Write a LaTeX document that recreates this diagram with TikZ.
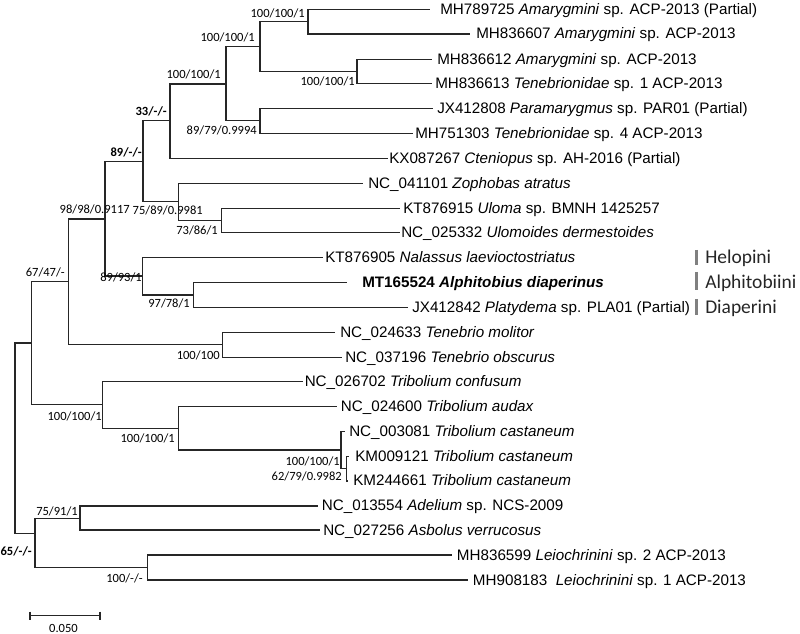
\documentclass[tikz,border=0pt]{standalone}
\usepackage{fontspec}
\setmainfont{Liberation Sans}
\newfontfamily\supfont{Carlito}
\begin{document}
\begin{tikzpicture}[x=0.75pt,y=-0.75pt,
  br/.style={line width=0.9pt, draw=black!85},
  leaf/.style={anchor=base west, inner sep=0pt, font=\fontsize{11.4}{13}\selectfont},
  sup/.style={anchor=base east, inner sep=0pt, font=\supfont\fontsize{9.4}{11}\selectfont},
  supb/.style={anchor=base east, inner sep=0pt, font=\supfont\bfseries\fontsize{9.4}{11}\selectfont},
  grp/.style={anchor=base west, inner sep=0pt, font=\supfont\fontsize{14.6}{17}\selectfont, text=black!85},
  gbar/.style={line width=2.2pt, draw=black!50}]
\useasboundingbox (0,0) rectangle (800,634);
% internal nodes
\coordinate (R) at (15,437.8);
\coordinate (P) at (31.7,343);
\coordinate (K) at (68.3,281.7);
\coordinate (H) at (105,219);
\coordinate (G) at (143,161.7);
\coordinate (F) at (170,120.7);
\coordinate (D) at (226,84);
\coordinate (B) at (260,46.7);
\coordinate (A) at (308,21.7);
\coordinate (C) at (357,71.3);
\coordinate (E) at (260,120.8);
\coordinate (I) at (178.3,201.7);
\coordinate (J) at (221.7,220.5);
\coordinate (L) at (142.5,276);
\coordinate (M) at (193.3,295);
\coordinate (N) at (222.3,344.8);
\coordinate (Q) at (102.7,404.3);
\coordinate (S) at (178.3,428.3);
\coordinate (T) at (341,450);
\coordinate (U) at (346.5,468.8);
\coordinate (X) at (35,533.3);
\coordinate (V) at (80,518.2);
\coordinate (W) at (147.7,567.5);
% leaf tips
\coordinate (t1) at (430,9.3);
\coordinate (t2) at (470,34);
\coordinate (t3) at (432,59.3);
\coordinate (t4) at (432,83.3);
\coordinate (t5) at (433,108.3);
\coordinate (t6) at (413,133.3);
\coordinate (t7) at (388,158.3);
\coordinate (t8) at (363,183.3);
\coordinate (t9) at (400,208.3);
\coordinate (t10) at (400,232.7);
\coordinate (t11) at (323,257.3);
\coordinate (t12) at (347,282.7);
\coordinate (t13) at (408,307.3);
\coordinate (t14) at (335,332.3);
\coordinate (t15) at (342,357.3);
\coordinate (t16) at (303,381.7);
\coordinate (t17) at (337,406.7);
\coordinate (t18) at (345,431.7);
\coordinate (t19) at (349,456.7);
\coordinate (t20) at (348,481);
\coordinate (t21) at (318,506);
\coordinate (t22) at (320,530);
\coordinate (t23) at (451.7,555);
\coordinate (t24) at (468,580);
% branches
\draw[br] (R) |- (P) (R) |- (X);
\draw[br] (P) |- (K) (P) |- (Q);
\draw[br] (K) |- (H) (K) |- (N);
\draw[br] (H) |- (G) (H) |- (L);
\draw[br] (G) |- (F) (G) |- (I);
\draw[br] (F) |- (D) (F) |- (t7);
\draw[br] (D) |- (B) (D) |- (E);
\draw[br] (B) |- (A) (B) |- (C);
\draw[br] (A) |- (t1) (A) |- (t2);
\draw[br] (C) |- (t3) (C) |- (t4);
\draw[br] (E) |- (t5) (E) |- (t6);
\draw[br] (I) |- (t8) (I) |- (J);
\draw[br] (J) |- (t9) (J) |- (t10);
\draw[br] (L) |- (t11) (L) |- (M);
\draw[br] (M) |- (t12) (M) |- (t13);
\draw[br] (N) |- (t14) (N) |- (t15);
\draw[br] (Q) |- (t16) (Q) |- (S);
\draw[br] (S) |- (t17) (S) |- (T);
\draw[br] (T) |- (t18) (T) |- (U);
\draw[br] (U) |- (t19) (U) |- (t20);
\draw[br] (X) |- (V) (X) |- (W);
\draw[br] (V) |- (t21) (V) |- (t22);
\draw[br] (W) |- (t23) (W) |- (t24);
% leaf labels
\node[leaf] (l1) at (440,14.3) {MH789725 \textit{Amarygmini} sp. ACP-2013 (Partial)};
\node[leaf] (l2) at (476,39) {MH836607 \textit{Amarygmini} sp. ACP-2013};
\node[leaf] (l3) at (437,64.3) {MH836612 \textit{Amarygmini} sp. ACP-2013};
\node[leaf] (l4) at (435,88.3) {MH836613 \textit{Tenebrionidae} sp. 1 ACP-2013};
\node[leaf] (l5) at (437,113.3) {JX412808 \textit{Paramarygmus} sp. PAR01 (Partial)};
\node[leaf] (l6) at (415,138.3) {MH751303 \textit{Tenebrionidae} sp. 4 ACP-2013};
\node[leaf] (l7) at (389,163.3) {KX087267 \textit{Cteniopus} sp. AH-2016 (Partial)};
\node[leaf] (l8) at (368,188.3) {NC\_041101 \textit{Zophobas atratus}};
\node[leaf] (l9) at (403,213.3) {KT876915 \textit{Uloma} sp. BMNH 1425257};
\node[leaf] (l10) at (401,237.7) {NC\_025332 \textit{Ulomoides dermestoides}};
\node[leaf] (l11) at (325,262.3) {KT876905 \textit{Nalassus laevioctostriatus}};
\node[leaf] (l12) at (362,287.7) {\bfseries MT165524 \textit{Alphitobius diaperinus}};
\node[leaf] (l13) at (412,312.3) {JX412842 \textit{Platydema} sp. PLA01 (Partial)};
\node[leaf] (l14) at (340,337.3) {NC\_024633 \textit{Tenebrio molitor}};
\node[leaf] (l15) at (345,362.3) {NC\_037196 \textit{Tenebrio obscurus}};
\node[leaf] (l16) at (304.5,386.7) {NC\_026702 \textit{Tribolium confusum}};
\node[leaf] (l17) at (340.7,411.7) {NC\_024600 \textit{Tribolium audax}};
\node[leaf] (l18) at (349,436.7) {NC\_003081 \textit{Tribolium castaneum}};
\node[leaf] (l19) at (355,461.7) {KM009121 \textit{Tribolium castaneum}};
\node[leaf] (l20) at (353,486) {KM244661 \textit{Tribolium castaneum}};
\node[leaf] (l21) at (321.7,511) {NC\_013554 \textit{Adelium} sp. NCS-2009};
\node[leaf] (l22) at (323,535) {NC\_027256 \textit{Asbolus verrucosus}};
\node[leaf] (l23) at (456.7,560) {MH836599 \textit{Leiochrinini} sp. 2 ACP-2013};
\node[leaf] (l24) at (472.7,585) {MH908183\ \ \textit{Leiochrinini} sp. 1 ACP-2013};
% support values
\node[sup] (sA) at (305,17.3) {100/100/1};
\node[sup] (sB) at (255,42) {100/100/1};
\node[sup] (sC) at (355,86) {100/100/1};
\node[sup] (sD) at (221,79) {100/100/1};
\node[sup] (sE) at (257,135) {89/79/0.9994};
\node[supb] (sF) at (167,116) {33/-/-};
\node[supb] (sG) at (142,156.7) {89/-/-};
\node[sup] (sH) at (130,214) {98/98/0.9117};
\node[sup] (sI) at (203,215) {75/89/0.9981};
\node[sup] (sJ) at (218,234.7) {73/86/1};
\node[sup] (sL) at (142,282) {89/93/1};
\node[sup] (sM) at (190,307.3) {97/78/1};
\node[sup] (sK) at (65,276.7) {67/47/-};
\node[sup] (sN) at (220,360) {100/100};
\node[sup] (sQ) at (102,420.7) {100/100/1};
\node[sup] (sS) at (175,442.3) {100/100/1};
\node[sup] (sT) at (340,465.5) {100/100/1};
\node[sup] (sU) at (342,480.7) {62/79/0.9982};
\node[sup] (sV) at (78,515.7) {75/91/1};
\node[sup] (sW) at (143,582.3) {100/-/-};
\node[supb] (sX) at (32,555.7) {65/-/-};
% scale bar
\coordinate (sb1) at (30,615.7);
\coordinate (sb2) at (100,615.7);
\draw[br] (sb1) -- (sb2);
\draw[br] (sb1) ++(0,-4) -- ++(0,8);
\draw[br] (sb2) ++(0,-4) -- ++(0,8);
\node[anchor=base, inner sep=0pt, font=\supfont\fontsize{9.4}{11}\selectfont] (sbl) at (63.5,632) {0.050};
% group labels
\draw[gbar] (696.5,250) -- (696.5,265.5);
\draw[gbar] (696.5,272) -- (696.5,290);
\draw[gbar] (696.5,299) -- (696.5,315);
\node[grp] (g1) at (705,264) {Helopini};
\node[grp] (g2) at (705,288.5) {Alphitobiini};
\node[grp] (g3) at (705,314) {Diaperini};
\end{tikzpicture}
\end{document}
